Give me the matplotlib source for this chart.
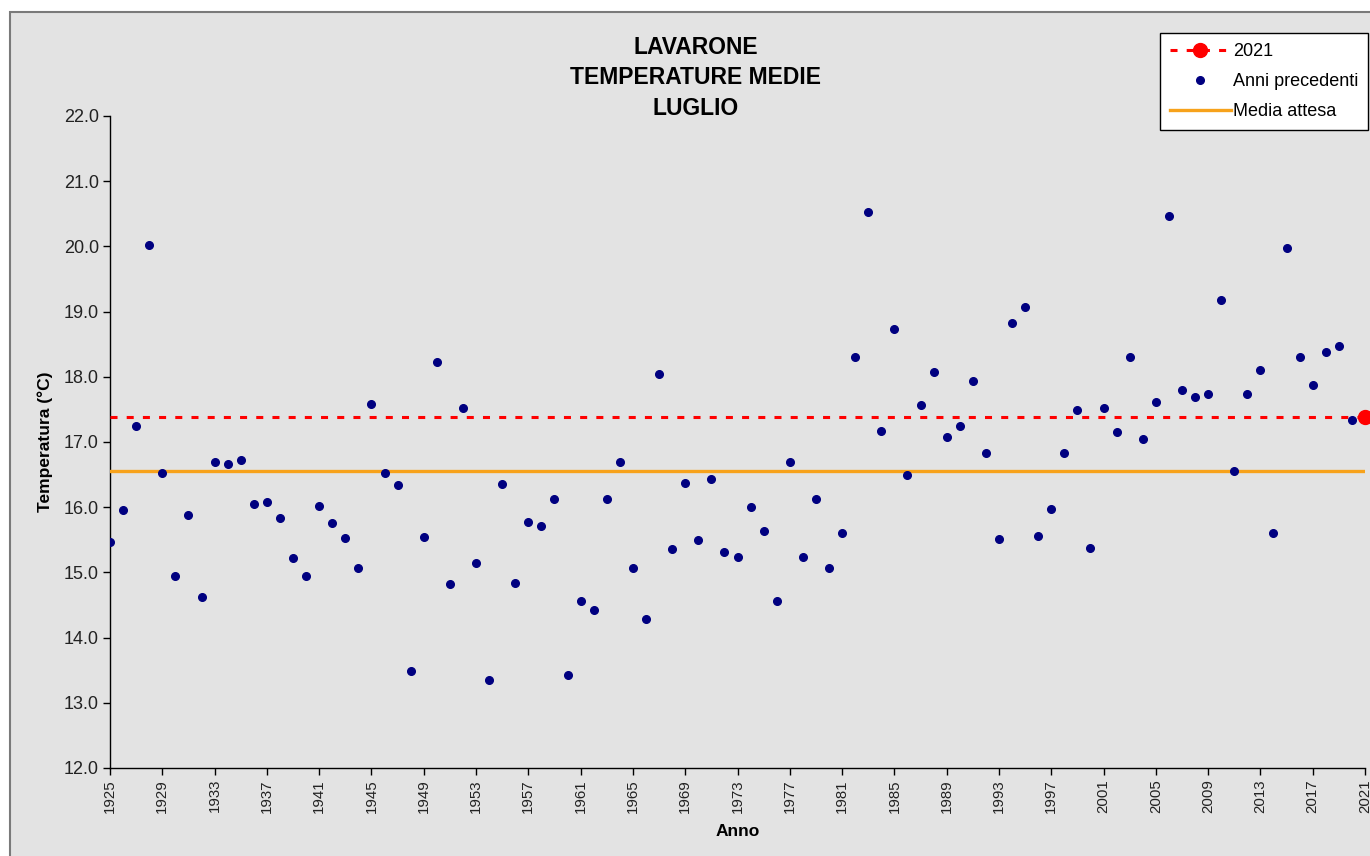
import matplotlib
matplotlib.use("Agg")
import matplotlib.pyplot as plt
from matplotlib.patches import Rectangle

plt.rcParams['font.family'] = ['Liberation Sans', 'DejaVu Sans']

anni = list(range(1925, 2021))
temp = [15.47, 15.95, 17.25, 20.02, 16.52, 14.95, 15.88, 14.63, 16.70, 16.66,
        16.73, 16.05, 16.08, 15.83, 15.22, 14.95, 16.02, 15.76, 15.53, 15.07,
        17.59, 16.52, 16.34, 13.49, 15.54, 18.23, 14.82, 17.52, 15.15, 13.35,
        16.36, 14.84, 15.78, 15.71, 16.13, 13.43, 14.56, 14.43, 16.12, 16.70,
        15.06, 14.28, 18.05, 15.36, 16.37, 15.49, 16.43, 15.32, 15.24, 16.00,
        15.63, 14.56, 16.70, 15.24, 16.12, 15.07, 15.60, 18.30, 20.53, 17.17,
        18.74, 16.49, 17.56, 18.08, 17.07, 17.25, 17.94, 16.83, 15.51, 18.82,
        19.07, 15.56, 15.97, 16.83, 17.49, 15.37, 17.52, 17.15, 18.30, 17.04,
        17.62, 20.46, 17.79, 17.69, 17.74, 19.18, 16.56, 17.74, 18.10, 15.60,
        19.98, 18.30, 17.87, 18.38, 18.48, 17.34]
anno_corrente = 2021
temp_corrente = 17.39
media_attesa = 16.55
x_ticks = list(range(1925, 2022, 4))
y_ticks = [12.0, 13.0, 14.0, 15.0, 16.0, 17.0, 18.0, 19.0, 20.0, 21.0, 22.0]

fig = plt.figure(figsize=(13.7, 8.56), dpi=100)
fig.patch.set_facecolor('white')
# chart area frame (excel style), behind the axes
sfondo = Rectangle((10 / 1370, -0.05), 1.1, 1.05 - 12 / 856,
                   transform=fig.transFigure, facecolor='#e3e3e3',
                   edgecolor='#7a7a7a', linewidth=1.5, zorder=-5)
fig.add_artist(sfondo)

ax = fig.add_axes([110 / 1370, 1 - 768 / 856, 1255 / 1370, 652 / 856])
ax.set_facecolor('none')
ax.set_zorder(1)

ax.plot([anni[0], anno_corrente], [temp_corrente, temp_corrente], color='red',
        lw=2.2, ls=(0, (2.3, 3)), marker='o', markersize=10, markevery=[1],
        label=str(anno_corrente), clip_on=False, zorder=4)
ax.plot(anni, temp, 'o', color='#000080', markersize=5.5, ls='none',
        label='Anni precedenti', zorder=5)
ax.plot([anni[0], anno_corrente], [media_attesa, media_attesa], color='#F7A21B',
        lw=2.4, label='Media attesa', zorder=3)

ax.set_xlim(1925, 2021)
ax.set_ylim(12, 22)
ax.set_xticks(x_ticks)
ax.set_xticklabels([str(a) for a in x_ticks], rotation=90, fontsize=10.8,
                   color='#222222')
ax.set_yticks(y_ticks)
ax.set_yticklabels(['%.1f' % v for v in y_ticks], fontsize=13, color='#222222')
ax.tick_params(direction='out', length=5, width=1, color='black', pad=3)
for s in ['top', 'right']:
    ax.spines[s].set_visible(False)
for s in ['left', 'bottom']:
    ax.spines[s].set_linewidth(1)

ax.set_ylabel('Temperatura (°C)', fontsize=12.5, fontweight='bold', labelpad=8)
ax.set_xlabel('Anno', fontsize=12.5, fontweight='bold', labelpad=8)

fig.text(696 / 1370, 1 - 78 / 856, 'LAVARONE\nTEMPERATURE MEDIE\nLUGLIO',
         ha='center', va='center', fontsize=16.5, fontweight='bold',
         linespacing=1.4, zorder=2)

leg = ax.legend(loc='upper right', bbox_to_anchor=(1368 / 1370, 1 - 33 / 856),
                bbox_transform=fig.transFigure, fontsize=13, frameon=True,
                fancybox=False, edgecolor='black', facecolor='white',
                framealpha=1, handlelength=3.4, handletextpad=0.1,
                labelspacing=0.73, borderpad=0.55, borderaxespad=0)
leg.get_frame().set_linewidth(1)

fig.savefig('out.png', dpi=100, facecolor=fig.get_facecolor())
